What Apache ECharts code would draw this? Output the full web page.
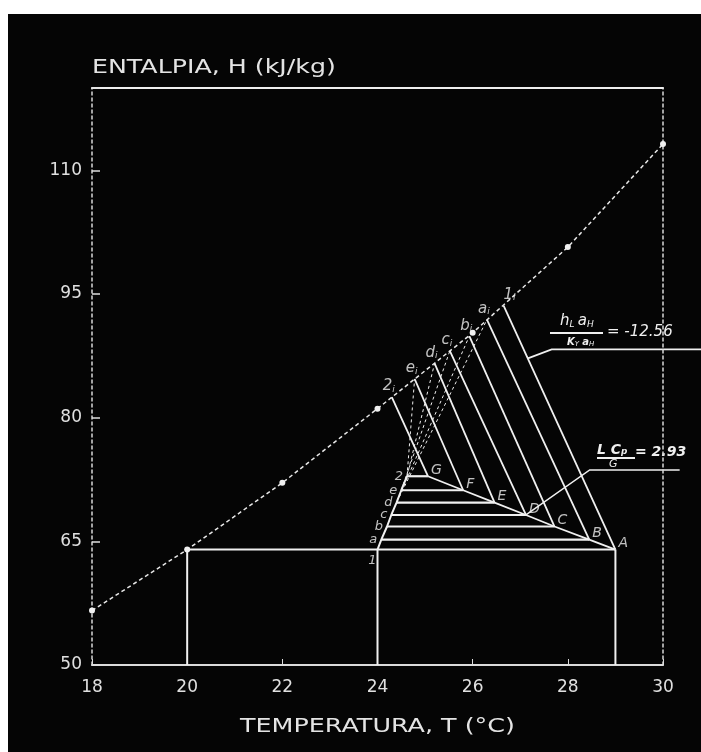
<!DOCTYPE html>
<html>
<head>
<meta charset="utf-8">
<title>Entalpia vs temperatura</title>
<script src="https://cdn.jsdelivr.net/npm/echarts@6/dist/echarts.min.js"></script>
<style>
  html, body { margin: 0; padding: 0; background: #fff; }
  #chart { position: absolute; left: 8px; top: 14px; width: 693px; height: 738px; }
</style>
</head>
<body>
<div id="chart"></div>
<script>
// curva de equilibrio (aire saturado)
const curveT = [18, 20, 22, 24, 26, 28, 30];
const curveH = [56.6, 64.0, 72.1, 81.1, 90.3, 100.7, 113.2];

// niveles de entalpia del gas (lineas horizontales)
const levelH = [64.0, 65.2, 66.8, 68.2, 69.7, 71.2, 72.9];
// linea de operacion A..G
const liquidNames = ['A', 'B', 'C', 'D', 'E', 'F', 'G'];
const liquidT = [29.0, 28.45, 27.72, 27.12, 26.46, 25.80, 25.06];
// trayectoria del gas 1, a..e, 2
const gasNames = ['1', 'a', 'b', 'c', 'd', 'e', '2'];
const gasT = [24.0, 24.08, 24.20, 24.29, 24.40, 24.50, 24.62];
// puntos de interfase sobre la curva
const interNames = ['1', 'a', 'b', 'c', 'd', 'e', '2'];
const interT = [26.65, 26.30, 25.93, 25.52, 25.20, 24.78, 24.30];
const interH = [93.6, 91.9, 89.9, 88.1, 86.6, 84.7, 82.5];
// lineas gas -> interfase (indice gas, indice interfase)
const gasToInter = [[6, 5], [6, 4], [5, 3], [4, 2], [4, 1]];

const yTicks = [50, 65, 80, 95, 110];

// lineas de llamada de las anotaciones (salen del area del grafico)
const leaderSlope = [[27.16, 87.2], [27.66, 88.3], [30.8, 88.3]];
const leaderLcp = [[28.46, 73.66], [30.35, 73.66]];

const white = '#f0f0f0';
const chart = echarts.init(document.getElementById('chart'));

const series = [];
function addLine(points, width, type) {
    series.push({
        type: 'line',
        data: points,
        symbol: 'none',
        silent: true,
        lineStyle: { color: white, width: width, type: type || 'solid' }
    });
}

// curva de equilibrio
series.push({
    type: 'line',
    data: curveT.map((t, i) => [t, curveH[i]]),
    symbol: 'circle',
    symbolSize: 6,
    itemStyle: { color: white },
    lineStyle: { color: '#e8e8e8', width: 1.5, type: [4, 3] },
    silent: true
});

// base: lineas verticales y horizontal
addLine([[20, 50], [20, levelH[0]]], 2);
addLine([[gasT[0], 50], [gasT[0], levelH[0]]], 2);
addLine([[liquidT[0], 50], [liquidT[0], levelH[0]]], 2);
addLine([[20, levelH[0]], [liquidT[0], levelH[0]]], 2);

// escalones horizontales
for (let i = 1; i < levelH.length; i++) {
    addLine([[gasT[i], levelH[i]], [liquidT[i], levelH[i]]], 2.2);
}

// trayectoria del gas y linea de operacion
addLine(gasT.map((t, i) => [t, levelH[i]]), 2);
addLine(liquidT.map((t, i) => [t, levelH[i]]), 1.8);

// lineas de pendiente -hL aH / ky aH
for (let i = 0; i < liquidT.length; i++) {
    addLine([[liquidT[i], levelH[i]], [interT[i], interH[i]]], 1.8);
}

// lineas punteadas gas -> interfase
gasToInter.forEach(([g, k]) => {
    addLine([[gasT[g], levelH[g]], [interT[k], interH[k]]], 1, [3, 3]);
});

const labelFont = { fontFamily: 'DejaVu Sans', fontStyle: 'italic', color: white };

series.push({
    type: 'scatter',
    symbolSize: 0,
    silent: true,
    data: liquidT.map((t, i) => ({ value: [t, levelH[i]], name: liquidNames[i] })),
    label: {
        show: true, position: 'right', distance: 3, offset: [0, -6],
        formatter: p => p.name, fontSize: 14, ...labelFont
    }
});

series.push({
    type: 'scatter',
    symbolSize: 0,
    silent: true,
    data: gasT.map((t, i) => ({
        value: [t, levelH[i]],
        name: gasNames[i],
        label: i === 0 ? { offset: [3, 11] } : undefined
    })),
    label: {
        show: true, position: 'left', distance: 4,
        formatter: p => p.name, fontSize: 13, ...labelFont
    }
});

series.push({
    type: 'scatter',
    symbolSize: 0,
    silent: true,
    data: interT.map((t, i) => ({
        value: [t, interH[i]],
        name: interNames[i],
        label: i === 0 ? { offset: [6, 0] } : undefined
    })),
    label: {
        show: true, position: 'top', distance: 3, offset: [-3, 0],
        formatter: p => '{m|' + p.name + '}{s|i}',
        ...labelFont,
        rich: {
            m: { fontSize: 15, fontStyle: 'italic', fontFamily: 'DejaVu Sans', color: white },
            s: { fontSize: 9, fontStyle: 'italic', fontFamily: 'DejaVu Sans', color: white, verticalAlign: 'bottom' }
        }
    }
});

const axisText = { color: '#e0e0e0', fontFamily: 'DejaVu Sans', fontSize: 17 };

const graphic = [
    {
        type: 'text', left: 84, top: 45, scaleX: 1.33,
        style: { text: 'ENTALPIA, H (kJ/kg)', fill: '#e4e4e4', font: '19px "DejaVu Sans"' }
    },
    {
        type: 'text', left: 232, top: 703, scaleX: 1.27,
        style: { text: 'TEMPERATURA, T (°C)', fill: '#e4e4e4', font: '20px "DejaVu Sans"' }
    },
    // hL aH / ky aH = -12.56
    {
        type: 'text', left: 552, top: 300,
        style: {
            text: '{m|h}{s|L} {m|a}{s|H}', fill: white,
            rich: {
                m: { font: 'italic 15px "DejaVu Sans"', fill: white },
                s: { font: 'italic 9px "DejaVu Sans"', fill: white, verticalAlign: 'bottom' }
            }
        }
    },
    { type: 'line', shape: { x1: 542, y1: 319, x2: 595, y2: 319 }, style: { stroke: white, lineWidth: 2 } },
    {
        type: 'text', left: 559, top: 322,
        style: {
            text: '{m|K}{s|Y} {m|a}{s|H}', fill: white,
            rich: {
                m: { font: 'italic bold 10px "DejaVu Sans"', fill: white },
                s: { font: 'italic 7px "DejaVu Sans"', fill: white, verticalAlign: 'bottom' }
            }
        }
    },
    {
        type: 'text', left: 599, top: 311,
        style: { text: '= -12.56', fill: white, font: 'italic 15px "DejaVu Sans"' }
    },
    // L Cp / G = 2.93
    {
        type: 'text', left: 589, top: 429,
        style: { text: 'L Cₚ', fill: white, font: 'italic bold 14px "DejaVu Sans"' }
    },
    { type: 'line', shape: { x1: 589, y1: 444, x2: 627, y2: 444 }, style: { stroke: white, lineWidth: 2 } },
    {
        type: 'text', left: 601, top: 445,
        style: { text: 'G', fill: white, font: 'italic 11px "DejaVu Sans"' }
    },
    {
        type: 'text', left: 627, top: 431,
        style: { text: '= 2.93', fill: white, font: 'italic bold 14px "DejaVu Sans"' }
    }
];

const option = {
    backgroundColor: '#050505',
    animation: false,
    grid: { left: 84, right: 38, top: 74, bottom: 87 },
    xAxis: [
        {
            type: 'value', min: 18, max: 30, interval: 2,
            axisLine: { lineStyle: { color: '#dcdcdc', width: 2 } },
            axisTick: { inside: true, length: 6, lineStyle: { color: '#dcdcdc' } },
            axisLabel: { margin: 14, ...axisText },
            splitLine: { show: false }
        },
        {
            type: 'value', position: 'top', min: 18, max: 30, interval: 2,
            axisLine: { show: true, lineStyle: { color: '#eeeeee', width: 2 } },
            axisTick: { show: false }, axisLabel: { show: false }, splitLine: { show: false }
        }
    ],
    yAxis: [
        {
            type: 'value', min: 50, max: 120, interval: 15,
            axisLine: { show: true, lineStyle: { color: '#d8d8d8', width: 1.5, type: [3, 3] } },
            axisTick: { show: true, inside: true, length: 8, lineStyle: { color: '#e0e0e0', width: 1.5 } },
            axisLabel: {
                margin: 10, ...axisText,
                formatter: v => (yTicks.indexOf(v) >= 0 ? String(v) : '')
            },
            splitLine: { show: false }
        },
        {
            type: 'value', position: 'right', min: 50, max: 120, interval: 15,
            axisLine: { show: true, lineStyle: { color: '#d8d8d8', width: 1.5, type: [3, 3] } },
            axisTick: { show: false }, axisLabel: { show: false }, splitLine: { show: false }
        }
    ],
    graphic: graphic,
    series: series
};

chart.setOption(option);

// las lineas de llamada salen del area del grafico: se pasan a pixeles con la escala del eje
const toPx = p => chart.convertToPixel({ xAxisIndex: 0, yAxisIndex: 0 }, p);
graphic.push({
    type: 'polyline',
    shape: { points: leaderSlope.map(toPx) },
    style: { stroke: white, lineWidth: 1.8, fill: null }
});
graphic.push({
    type: 'polyline',
    shape: { points: [[liquidT[3], levelH[3]]].concat(leaderLcp).map(toPx) },
    style: { stroke: white, lineWidth: 1.5, fill: null }
});
chart.setOption({ graphic: graphic });
</script>
</body>
</html>
